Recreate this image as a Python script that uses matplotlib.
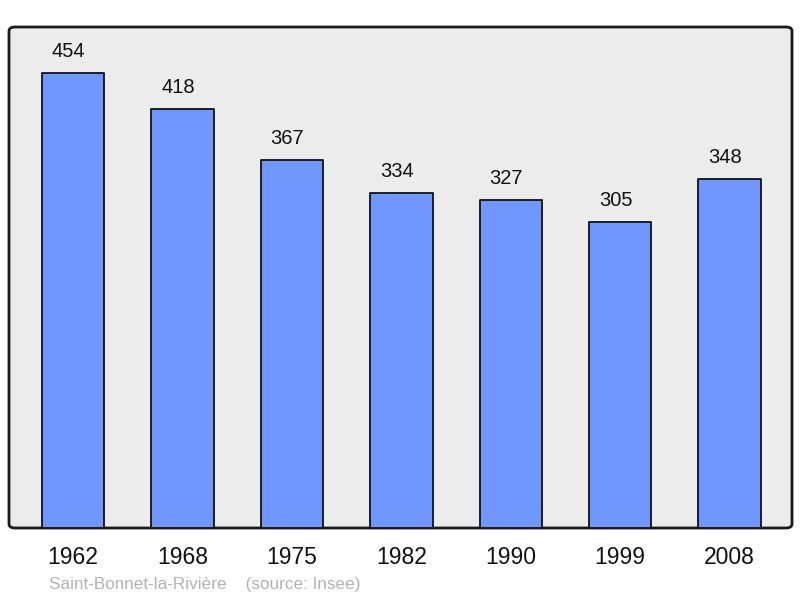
import matplotlib
matplotlib.use("Agg")
import matplotlib.pyplot as plt
from matplotlib.patches import FancyBboxPatch

years = ["1962", "1968", "1975", "1982", "1990", "1999", "2008"]
population = [454, 418, 367, 334, 327, 305, 348]
commune = "Saint-Bonnet-la-Rivière"
source = "(source: Insee)"

plt.rcParams['font.family'] = ['Liberation Sans', 'DejaVu Sans']

fig = plt.figure(figsize=(8, 5.98), dpi=100)
ax = fig.add_axes([9/800, 70/598, 783/800, 501/598])
ax.set_facecolor('none')
frame = FancyBboxPatch((0, 0), 1, 1, boxstyle="round,pad=0,rounding_size=0.008",
                       transform=ax.transAxes, facecolor='#ececec', edgecolor='#1a1a1a',
                       linewidth=2, zorder=0, clip_on=False)
ax.add_patch(frame)
for s in ax.spines.values():
    s.set_visible(False)

x = list(range(len(years)))
bars = ax.bar(x, population, width=0.57, color='#7097ff', edgecolor='#111111',
              linewidth=1.3, zorder=2)
for b in bars:
    b.set_joinstyle('round')
for xi, v in zip(x, population):
    ax.annotate(str(v), (xi, v), xytext=(-3.3, 9), textcoords='offset points',
                ha='center', va='bottom', fontsize=14.5, color='#111111')

ax.set_xlim(-0.585, 6.57)
ax.set_ylim(0, 500)
ax.set_yticks([])
ax.set_xticks(x)
ax.set_xticklabels(years, fontsize=16.5, color='#111111')
ax.tick_params(axis='x', length=0, pad=13)

fig.text(49/800, 1 - 584/598, commune + "    " + source, fontsize=12.3,
         color='#b3b3b3', ha='left', va='center')

fig.savefig("out.png", dpi=100)
